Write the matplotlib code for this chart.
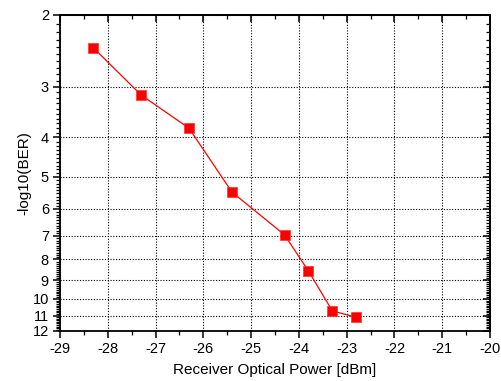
import matplotlib
matplotlib.use('Agg')
import matplotlib.pyplot as plt
import numpy as np
from matplotlib.ticker import FixedLocator, FixedFormatter, NullFormatter

plt.rcParams['font.family'] = ['Liberation Sans', 'DejaVu Sans']

# measured points
power = [-28.3, -27.3, -26.3, -25.4, -24.3, -23.8, -23.3, -22.8]
neg_log_ber = [2.41, 3.15, 3.80, 5.46, 6.96, 8.54, 10.71, 11.10]

x_ticks = list(range(-29, -19))
y_ticks = list(range(2, 13))

fig = plt.figure(figsize=(5.02, 3.81), dpi=100)
ax = fig.add_axes([60/502, 1 - 331/381, 430/502, 316/381])

ax.plot(power, neg_log_ber, color='#ff0000', lw=0.9, marker='s', ms=7.5,
        mfc='#ff0000', mec='#ff3030', mew=0.5, zorder=3)

ax.set_yscale('log')
ax.set_ylim(12, 2)
ax.set_xlim(-29, -20)

ax.yaxis.set_major_locator(FixedLocator(y_ticks))
ax.yaxis.set_major_formatter(FixedFormatter([str(v) for v in y_ticks]))
ax.yaxis.set_minor_locator(FixedLocator(np.round(np.arange(2.0, 12.01, 0.1), 2)))
ax.yaxis.set_minor_formatter(NullFormatter())

ax.set_xticks(x_ticks)
ax.set_xticklabels([str(v) for v in x_ticks])
ax.set_xticks(np.arange(-29, -19.9, 0.5), minor=True)

ax.grid(True, which='major', color='black', linestyle=(0, (1, 1.5)), lw=0.8)

for s in ax.spines.values():
    s.set_linewidth(1.3)

ax.tick_params(which='both', direction='out', top=False, right=False)
ax.tick_params(which='major', length=5, width=1.1, labelsize=10.5, pad=3)
ax.tick_params(which='minor', length=3, width=0.9)

# mirrored ticks on top and right pointing inward
ax_top = ax.secondary_xaxis('top')
ax_top.set_xticks(x_ticks)
ax_top.set_xticks(np.arange(-29, -19.9, 0.5), minor=True)
ax_top.tick_params(which='both', direction='in', labeltop=False)
ax_top.tick_params(which='major', length=5, width=1.1)
ax_top.tick_params(which='minor', length=3, width=0.9)
ax_top.spines['top'].set_linewidth(1.3)

ax_r = ax.secondary_yaxis('right')
ax_r.yaxis.set_major_locator(FixedLocator(y_ticks))
ax_r.yaxis.set_minor_locator(FixedLocator(np.round(np.arange(2.0, 12.01, 0.1), 2)))
ax_r.yaxis.set_minor_formatter(NullFormatter())
ax_r.tick_params(which='both', direction='in', labelright=False)
ax_r.tick_params(which='major', length=5, width=1.1)
ax_r.tick_params(which='minor', length=3, width=0.9)
ax_r.spines['right'].set_linewidth(1.3)

ax.set_xlabel('Receiver Optical Power [dBm]', fontsize=11, labelpad=5)
ax.set_ylabel('-log10(BER)', fontsize=11, labelpad=1)

fig.savefig('out.png', dpi=100)
